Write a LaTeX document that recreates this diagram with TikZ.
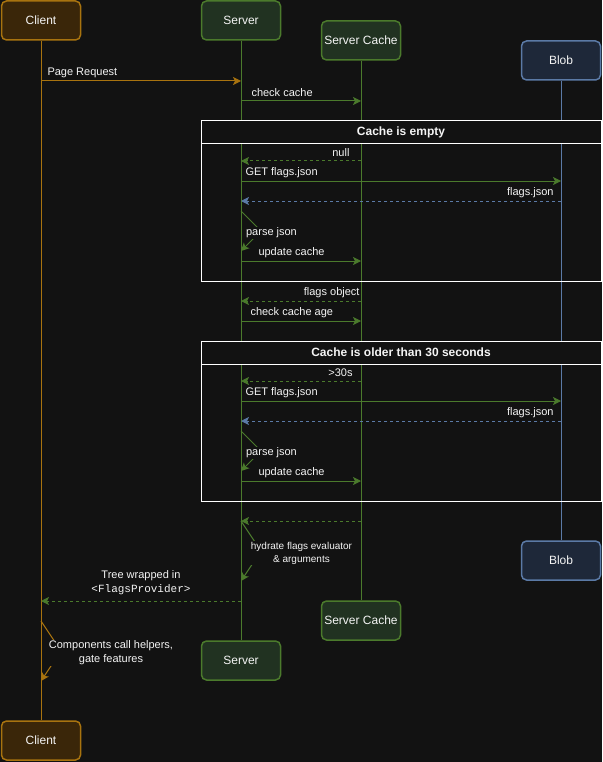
\documentclass[tikz,border=0pt]{standalone}
\usepackage{fontspec}
\setmainfont{Liberation Sans}
\newfontfamily\monofont{Liberation Mono}
\usepackage{xcolor}
\usetikzlibrary{arrows.meta}
\definecolor{bg}{HTML}{121212}
\definecolor{orn}{HTML}{A8730F}
\definecolor{ornfill}{HTML}{3A2609}
\definecolor{grn}{HTML}{4B7A2C}
\definecolor{grnfill}{HTML}{213221}
\definecolor{blu}{HTML}{5B7AA6}
\definecolor{blufill}{HTML}{1E2839}
\definecolor{txt}{HTML}{F4F4F4}

\begin{document}
\begin{tikzpicture}[x=1pt,y=-1pt,>={Stealth[length=8pt,width=8pt,inset=2pt]},
actor/.style={draw,line width=1.5pt,rounded corners=5pt,minimum width=79pt,minimum height=39pt,inner sep=2pt,text=txt,font=\fontsize{12}{14}\selectfont},
clientbox/.style={actor,draw=orn,fill=ornfill},
serverbox/.style={actor,draw=grn,fill=grnfill},
blobbox/.style={actor,draw=blu,fill=blufill},
lbl/.style={text=txt,font=\fontsize{11}{14}\selectfont,inner sep=0pt,yshift=-1.5pt},
oc/.style={orn,line width=1pt,->},
go/.style={grn,line width=1pt,->},
gret/.style={go,dashed},
bret/.style={blu,line width=1pt,->,dashed},
fhead/.style={draw=white,line width=1pt,fill=bg,minimum width=400pt,minimum height=23pt,text=txt,font=\bfseries\fontsize{12}{14}\selectfont}]
\fill[bg](0,0)rectangle(602,762);
\useasboundingbox(0,0)rectangle(602,762);
\node[clientbox](client)at(41,20.5){Client};
\node[serverbox](server)at(241,20.5){Server};
\node[serverbox](cache)at(361,40.5){Server Cache};
\node[blobbox](blob)at(561,60.5){Blob};
\node[clientbox](client2)at(41,740.5){Client};
\node[serverbox](server2)at(241,660.5){Server};
\node[serverbox](cache2)at(361,620.5){Server Cache};
\node[blobbox](blob2)at(561,560.5){Blob};
\draw[orn,line width=1pt](client)--(client2);
\draw[grn,line width=1pt](server)--(server2);
\draw[grn,line width=1pt](cache)--(cache2);
\draw[blu,line width=1pt](blob)--(blob2);
\draw[white,line width=1pt](201,121)rectangle(601,281);
\node[fhead](fh1)at(401,132.5){Cache is empty};
\draw[white,line width=1pt](201,341)rectangle(601,501);
\node[fhead](fh2)at(401,352.5){Cache is older than 30 seconds};
\draw[oc](47,71)node[lbl,anchor=west]{Page Request}(client|-0,81)--(server|-0,81);
\draw[go](251,91)node[lbl,anchor=west]{check cache}(server|-0,101)--(cache|-0,101);
\draw[gret](350,151)node[lbl,anchor=east]{null}(cache|-0,161)--(server|-0,161);
\draw[go](245,171)node[lbl,anchor=west]{GET flags.json}(server|-0,181)--(blob|-0,181);
\draw[bret](554,191)node[lbl,anchor=east]{flags.json}(blob|-0,201)--(server|-0,201);
\draw[go](server|-0,211)--(261,231)--(server|-0,251);
\node[lbl,fill=bg,inner sep=1pt](parse1)at(271.5,231.5){parse json};
\draw[go](258,251)node[lbl,anchor=west]{update cache}(server|-0,261)--(cache|-0,261);
\draw[gret](360,291)node[lbl,anchor=east]{flags object}(cache|-0,301)--(server|-0,301);
\draw[go](250,311)node[lbl,anchor=west]{check cache age}(server|-0,321)--(cache|-0,321);
\draw[gret](353,371)node[lbl,anchor=east]{>30s}(cache|-0,381)--(server|-0,381);
\draw[go](245,391)node[lbl,anchor=west]{GET flags.json}(server|-0,401)--(blob|-0,401);
\draw[bret](554,411)node[lbl,anchor=east]{flags.json}(blob|-0,421)--(server|-0,421);
\draw[go](server|-0,431)--(261,451)--(server|-0,471);
\node[lbl,fill=bg,inner sep=1pt](parse2)at(271.5,451.5){parse json};
\draw[go](258,471)node[lbl,anchor=west]{update cache}(server|-0,481)--(cache|-0,481);
\draw[gret](cache|-0,521)--(server|-0,521);
\draw[go](server|-0,521)--(261,551)--(server|-0,581);
\node[lbl,fill=bg,inner sep=1pt,align=center,font=\fontsize{10}{13}\selectfont](hydrate)at(301.5,551.5){hydrate flags evaluator\\\& arguments};
\draw[gret](141,581)node[lbl,align=center]{Tree wrapped in\\{\monofont <FlagsProvider>}}(server|-0,601)--(client|-0,601);
\draw[oc](client|-0,621)--(61,651)--(client|-0,681);
\node[lbl,fill=bg,inner sep=1pt,align=center](gate)at(111,651.5){Components call helpers,\\gate features};
\end{tikzpicture}
\end{document}
